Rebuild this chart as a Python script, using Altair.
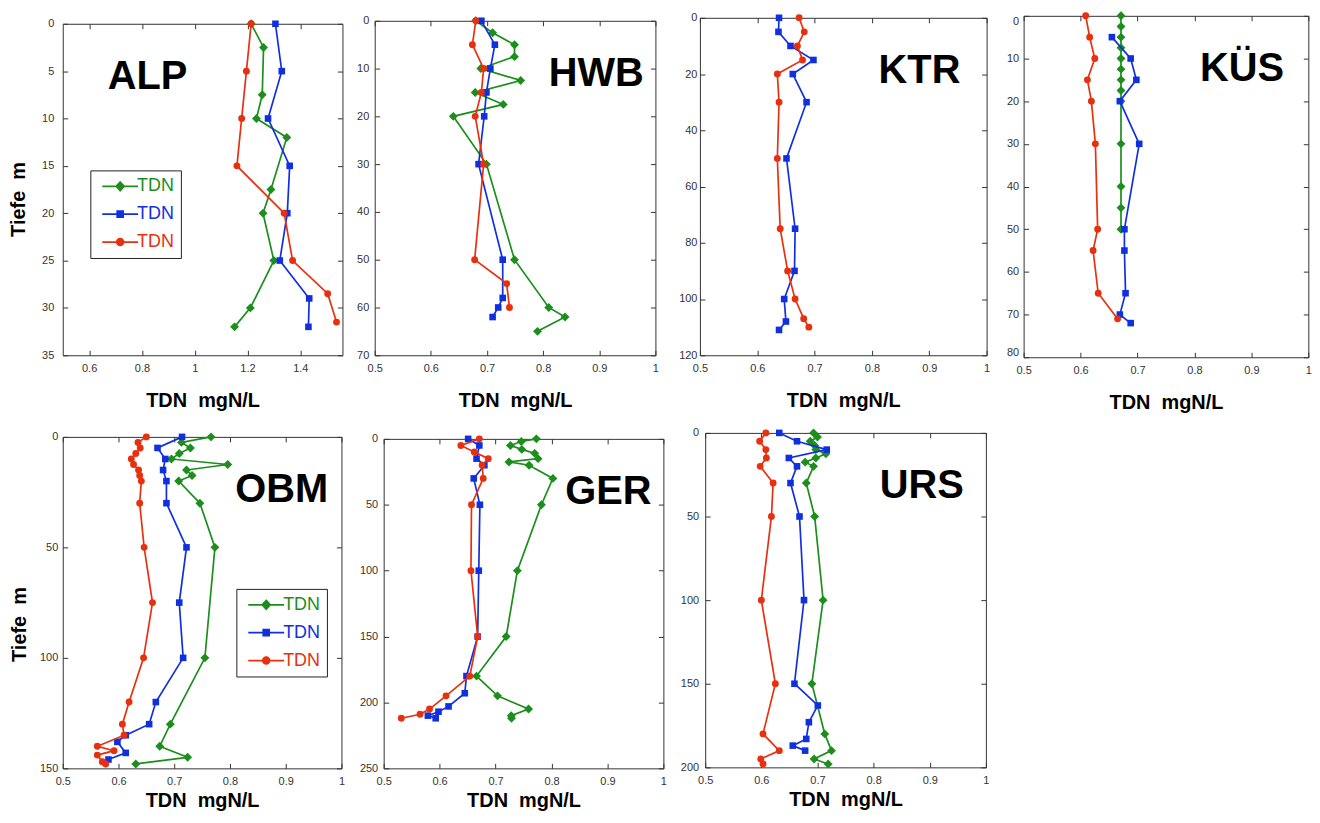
import altair as alt
import pandas as pd

FONT = "Liberation Sans"
GREEN, BLUE, RED = "#1b8e1b", "#1030e0", "#e8300f"
SERIES = ["g", "b", "r"]
SERIES_COLORS = [GREEN, BLUE, RED]
LEGEND_LABEL = "TDN"
X_TITLE = "TDN\u00a0\u00a0mgN/L"
Y_TITLE = "Tiefe\u00a0\u00a0m"
PANEL_NAMES = ["ALP", "HWB", "KTR", "KÜS", "OBM", "GER", "URS"]

# ---------------- data (depth m, TDN mgN/L) ----------------
ALP_G_DEPTH = [0, 2.5, 7.5, 10, 12, 17.5, 20, 25, 30, 32]
ALP_G_TDN = [1.214, 1.261, 1.256, 1.234, 1.349, 1.289, 1.259, 1.30, 1.211, 1.151]
ALP_B_DEPTH = [0, 5, 10, 15, 20, 25, 29, 32]
ALP_B_TDN = [1.306, 1.33, 1.278, 1.36, 1.351, 1.3225, 1.434, 1.431]
ALP_R_DEPTH = [0, 5, 10, 15, 20, 25, 28.5, 31.5]
ALP_R_TDN = [1.214, 1.196, 1.178, 1.16, 1.339, 1.371, 1.504, 1.5375]

HWB_G_DEPTH = [0, 2.5, 5, 7.5, 10, 12.5, 15, 17.5, 20, 30, 50, 60, 62, 65]
HWB_G_TDN = [0.68, 0.71, 0.749, 0.749, 0.689, 0.76, 0.679, 0.729, 0.64, 0.699, 0.749, 0.81, 0.839, 0.79]
HWB_B_DEPTH = [0, 5, 10, 15, 20, 30, 50, 58, 60, 62]
HWB_B_TDN = [0.69, 0.714, 0.706, 0.699, 0.695, 0.685, 0.728, 0.728, 0.72, 0.71]
HWB_R_DEPTH = [0, 5, 10, 15, 20, 30, 50, 55, 60]
HWB_R_TDN = [0.68, 0.674, 0.694, 0.69, 0.679, 0.694, 0.678, 0.735, 0.74]

KTR_B_DEPTH = [0, 5, 10, 15, 20, 30, 50, 75, 90, 100, 108, 111]
KTR_B_TDN = [0.638, 0.637, 0.658, 0.698, 0.662, 0.686, 0.651, 0.666, 0.665, 0.647, 0.65, 0.638]
KTR_R_DEPTH = [0, 5, 10, 15, 20, 30, 50, 75, 90, 100, 107, 110]
KTR_R_TDN = [0.673, 0.682, 0.67, 0.679, 0.635, 0.638, 0.635, 0.64, 0.653, 0.666, 0.681, 0.69]

KUS_G_DEPTH = [0, 2.5, 5, 7.5, 10, 12.5, 15, 17.5, 20, 30, 40, 45, 50]
KUS_G_TDN = [0.671, 0.671, 0.671, 0.671, 0.671, 0.671, 0.671, 0.671, 0.671, 0.671, 0.671, 0.671, 0.671]
KUS_B_DEPTH = [5, 10, 15, 20, 30, 50, 55, 65, 70, 72]
KUS_B_TDN = [0.655, 0.688, 0.698, 0.669, 0.703, 0.677, 0.677, 0.679, 0.669, 0.688]
KUS_R_DEPTH = [0, 5, 10, 15, 20, 30, 50, 55, 65, 71]
KUS_R_TDN = [0.609, 0.616, 0.625, 0.612, 0.619, 0.626, 0.630, 0.622, 0.631, 0.665]

OBM_G_DEPTH = [0, 2.5, 5, 7.5, 10, 12.5, 15, 17.5, 20, 30, 50, 100, 130, 140, 145, 148]
OBM_G_TDN = [0.766, 0.713, 0.729, 0.709, 0.695, 0.796, 0.722, 0.732, 0.708, 0.746, 0.773, 0.755, 0.693, 0.674, 0.724, 0.631]
OBM_B_DEPTH = [0, 5, 10, 15, 20, 30, 50, 75, 100, 120, 130, 135, 138, 143, 146]
OBM_B_TDN = [0.714, 0.67, 0.684, 0.68, 0.686, 0.686, 0.722, 0.709, 0.716, 0.667, 0.655, 0.613, 0.598, 0.613, 0.582]
OBM_R_DEPTH = [0, 2.5, 5, 7.5, 10, 12.5, 15, 17.5, 20, 30, 50, 75, 100, 120, 130, 135, 140, 142, 144, 147, 148]
OBM_R_TDN = [0.65, 0.635, 0.639, 0.631, 0.623, 0.627, 0.636, 0.638, 0.641, 0.638, 0.646, 0.661, 0.645, 0.619,
             0.607, 0.610, 0.562, 0.592, 0.562, 0.571, 0.577]

GER_G_DEPTH = [0, 2, 5, 8, 11, 15, 17.5, 20, 30, 50, 100, 150, 180, 195, 205, 210, 212]
GER_G_TDN = [0.773, 0.746, 0.7265, 0.747, 0.770, 0.776, 0.724, 0.760, 0.8025, 0.782, 0.739, 0.719, 0.666,
             0.7035, 0.759, 0.728, 0.7285]
GER_B_DEPTH = [0, 5, 15, 20, 30, 50, 100, 150, 180, 193, 203, 207, 210, 212]
GER_B_TDN = [0.651, 0.671, 0.666, 0.680, 0.661, 0.672, 0.670, 0.668, 0.648, 0.645, 0.616, 0.598, 0.579, 0.593]
GER_R_DEPTH = [0, 5, 10, 15, 20, 30, 50, 100, 150, 180, 195, 205, 209, 212]
GER_R_TDN = [0.671, 0.638, 0.662, 0.687, 0.676, 0.678, 0.657, 0.656, 0.668, 0.654, 0.6115, 0.582, 0.565, 0.5315]

URS_G_DEPTH = [0, 2.5, 5, 7.5, 10, 12.5, 15, 17.5, 20, 30, 50, 100, 150, 180, 190, 195, 198]
URS_G_TDN = [0.693, 0.70, 0.687, 0.695, 0.697, 0.715, 0.697, 0.678, 0.693, 0.68, 0.695, 0.71, 0.69, 0.713,
             0.725, 0.694, 0.719]
URS_B_DEPTH = [0, 5, 10, 15, 20, 30, 50, 100, 150, 163, 173, 183, 187, 190]
URS_B_TDN = [0.632, 0.6635, 0.7165, 0.649, 0.6635, 0.652, 0.668, 0.676, 0.659, 0.7006, 0.6847, 0.68, 0.656, 0.678]
URS_R_DEPTH = [0, 5, 10, 15, 20, 30, 50, 100, 150, 180, 190, 195, 198]
URS_R_TDN = [0.608, 0.597, 0.608, 0.609, 0.598, 0.621, 0.618, 0.60, 0.625, 0.603, 0.632, 0.599, 0.603]

# axis ranges / ticks
X_STD = [0.5, 1.0]
X_STD_TICKS = [0.5, 0.6, 0.7, 0.8, 0.9, 1.0]
X_ALP = [0.5, 1.56]
X_ALP_TICKS = [0.6, 0.8, 1.0, 1.2, 1.4]

# legend symbols (line + marker), custom paths
LEGEND_PATHS = [
    "M-1,0H8M3.5,-1.1L4.5,0L3.5,1.1L2.5,0Z",
    "M-1,0H8M2.75,-0.75H4.25V0.75H2.75Z",
    "M-1,0H8M2.65,0A0.85,0.85,0,1,1,4.35,0A0.85,0.85,0,1,1,2.65,0Z",
]
MARKERS = {"g": ("diamond", 80), "b": ("square", 44), "r": ("circle", 48)}


def frame(g=None, b=None, r=None):
    rows = []
    for key, pair in (("g", g), ("b", b), ("r", r)):
        if pair is None:
            continue
        for d, v in zip(pair[0], pair[1]):
            rows.append({"series": key, "depth": d, "tdn": v})
    return pd.DataFrame(rows)


def indep(c):
    return c.resolve_scale(fill="independent", stroke="independent", shape="independent")


def panel(name, df, xdom, xticks, ydom, yticks, w, h, name_x, ylabpad, top_gap,
          ytitle=None, ytitlepad=10, ytitley=None, xtitlepad=17.5,
          flush=False, legend_xy=None):
    xs = alt.Scale(domain=xdom, nice=False, zero=False)
    ys = alt.Scale(domain=ydom, nice=False, zero=False, reverse=True)
    base = alt.Chart(df)

    yargs = dict(values=yticks, offset=-5, tickSize=5, domain=False, grid=False,
                 labelPadding=ylabpad, labelFlush=flush)
    if ytitle:
        yargs.update(title=ytitle, titlePadding=ytitlepad, titleY=ytitley)
    else:
        yargs["title"] = None

    main_axes = base.mark_point(opacity=0).encode(
        x=alt.X("tdn:Q", scale=xs, axis=alt.Axis(
            values=xticks, format=".1~f", offset=-5, tickSize=5, domain=False, grid=False,
            labelPadding=7, labelFlush=False, title=X_TITLE, titlePadding=xtitlepad)),
        y=alt.Y("depth:Q", scale=ys, axis=alt.Axis(**yargs)),
    )
    mirror_axes = base.mark_point(opacity=0).encode(
        x=alt.X("tdn:Q", scale=xs, axis=alt.Axis(
            orient="top", values=xticks, offset=-5, tickSize=5, domain=False, grid=False,
            labels=False, title=None)),
        y=alt.Y("depth:Q", scale=ys, axis=alt.Axis(
            orient="right", values=yticks, offset=-5, tickSize=5, domain=False, grid=False,
            labels=False, title=None)),
    )
    layers = [main_axes, mirror_axes]

    for key, color in (("g", GREEN), ("b", BLUE), ("r", RED)):
        if not (df["series"] == key).any():
            continue
        shape, size = MARKERS[key]
        layers.append(
            base.transform_filter(alt.datum.series == key)
            .mark_line(color=color, strokeWidth=1.7,
                       point=alt.OverlayMarkDef(shape=shape, size=size, filled=True,
                                                color=color, opacity=1))
            .encode(
                x=alt.X("tdn:Q", scale=xs, axis=None),
                y=alt.Y("depth:Q", scale=ys, axis=None),
                order=alt.Order("depth:Q"),
            )
        )

    layers.append(
        alt.Chart(pd.DataFrame({"name": [name]}))
        .mark_text(font=FONT, fontSize=40, fontWeight="bold", color="black",
                   align="center", baseline="alphabetic")
        .encode(x=alt.value(name_x), y=alt.value(65.5), text="name:N")
    )

    if legend_xy is not None:
        lg = alt.Legend(
            orient="none", legendX=legend_xy[0], legendY=legend_xy[1], title=None,
            labelExpr="'%s'" % LEGEND_LABEL, labelFont=FONT, labelFontSize=18,
            labelColor={"expr": "datum.value == 'g' ? '%s' : (datum.value == 'b' ? '%s' : '%s')"
                                % (GREEN, BLUE, RED)},
            labelOffset=22, labelBaseline="middle", symbolSize=64, symbolStrokeWidth=1.7,
            symbolOpacity=1, padding=7, rowPadding=10, strokeColor="#222", fillColor="white",
        )
        layers.append(
            base.transform_filter("false")
            .mark_point(filled=True, size=64, strokeWidth=1.7)
            .encode(
                x=alt.X("tdn:Q", scale=xs, axis=None),
                y=alt.Y("depth:Q", scale=ys, axis=None),
                fill=alt.Fill("series:N", scale=alt.Scale(domain=SERIES, range=SERIES_COLORS), legend=lg),
                stroke=alt.Stroke("series:N", scale=alt.Scale(domain=SERIES, range=SERIES_COLORS), legend=lg),
                shape=alt.Shape("series:N", scale=alt.Scale(domain=SERIES, range=LEGEND_PATHS), legend=lg),
            )
        )

    ch = alt.layer(*layers).resolve_axis(x="independent", y="independent").properties(width=w, height=h)

    spacer = (
        alt.Chart(pd.DataFrame({"v": [0]}))
        .mark_point(opacity=0, size=0, strokeWidth=0)
        .encode(x=alt.value(0), y=alt.value(0))
        .properties(width=1, height=top_gap, view=alt.ViewBackground(stroke=None))
    )
    return indep(alt.vconcat(spacer, ch, spacing=0))


alp = panel(PANEL_NAMES[0], frame((ALP_G_DEPTH, ALP_G_TDN), (ALP_B_DEPTH, ALP_B_TDN), (ALP_R_DEPTH, ALP_R_TDN)),
            X_ALP, X_ALP_TICKS, [0, 35], list(range(0, 36, 5)), 281, 333, 85.2, 9, 6.7,
            ytitle=Y_TITLE, ytitlepad=13, ytitley=176, legend_xy=(27.7, 147.3))
hwb = panel(PANEL_NAMES[1], frame((HWB_G_DEPTH, HWB_G_TDN), (HWB_B_DEPTH, HWB_B_TDN), (HWB_R_DEPTH, HWB_R_TDN)),
            X_STD, X_STD_TICKS, [0, 70], list(range(0, 71, 10)), 282, 336, 222.5, 6, 3.3)
ktr = panel(PANEL_NAMES[2], frame(None, (KTR_B_DEPTH, KTR_B_TDN), (KTR_R_DEPTH, KTR_R_TDN)),
            X_STD, X_STD_TICKS, [0, 120], list(range(0, 121, 20)), 288, 339, 220.6, 3, 1)
kus = panel(PANEL_NAMES[3], frame((KUS_G_DEPTH, KUS_G_TDN), (KUS_B_DEPTH, KUS_B_TDN), (KUS_R_DEPTH, KUS_R_TDN)),
            X_STD, X_STD_TICKS, [0, 80], list(range(0, 81, 10)), 286, 343, 219.5, 5, 1, flush=True)

obm = panel(PANEL_NAMES[4], frame((OBM_G_DEPTH, OBM_G_TDN), (OBM_B_DEPTH, OBM_B_TDN), (OBM_R_DEPTH, OBM_R_TDN)),
            X_STD, X_STD_TICKS, [0, 150], [0, 50, 100, 150], 280, 333, 219.9, 5, 4.3,
            ytitle=Y_TITLE, ytitlepad=10.3, ytitley=188, xtitlepad=4.5, legend_xy=(174.4, 152.7))
ger = panel(PANEL_NAMES[5], frame((GER_G_DEPTH, GER_G_TDN), (GER_B_DEPTH, GER_B_TDN), (GER_R_DEPTH, GER_R_TDN)),
            X_STD, X_STD_TICKS, [0, 250], [0, 50, 100, 150, 200, 250], 281, 331, 225.8, 6, 6.6,
            xtitlepad=4.5)
urs = panel(PANEL_NAMES[6], frame((URS_G_DEPTH, URS_G_TDN), (URS_B_DEPTH, URS_B_TDN), (URS_R_DEPTH, URS_R_TDN)),
            X_STD, X_STD_TICKS, [0, 200], [0, 50, 100, 150, 200], 282, 336, 217.5, 6.6, 1, xtitlepad=4.5)

top = indep(alt.hconcat(indep(alt.hconcat(indep(alt.hconcat(alp, hwb, spacing=12.4)), ktr, spacing=19.1)),
                        kus, spacing=15.3))
bottom = indep(alt.hconcat(indep(alt.hconcat(obm, ger, spacing=13.4)), urs, spacing=12.4))

chart = (
    indep(alt.vconcat(top, bottom, spacing=12))
    .properties(padding=0)
    .configure_axis(labelFont=FONT, labelFontSize=11, labelColor="#333", tickColor="#333", tickWidth=1,
                    titleFont=FONT, titleFontSize=20, titleFontWeight="bold", titleColor="black")
    .configure_view(stroke="#333", strokeWidth=1)
)

chart.save("out.html", embed_options={"renderer": "svg", "actions": False})
